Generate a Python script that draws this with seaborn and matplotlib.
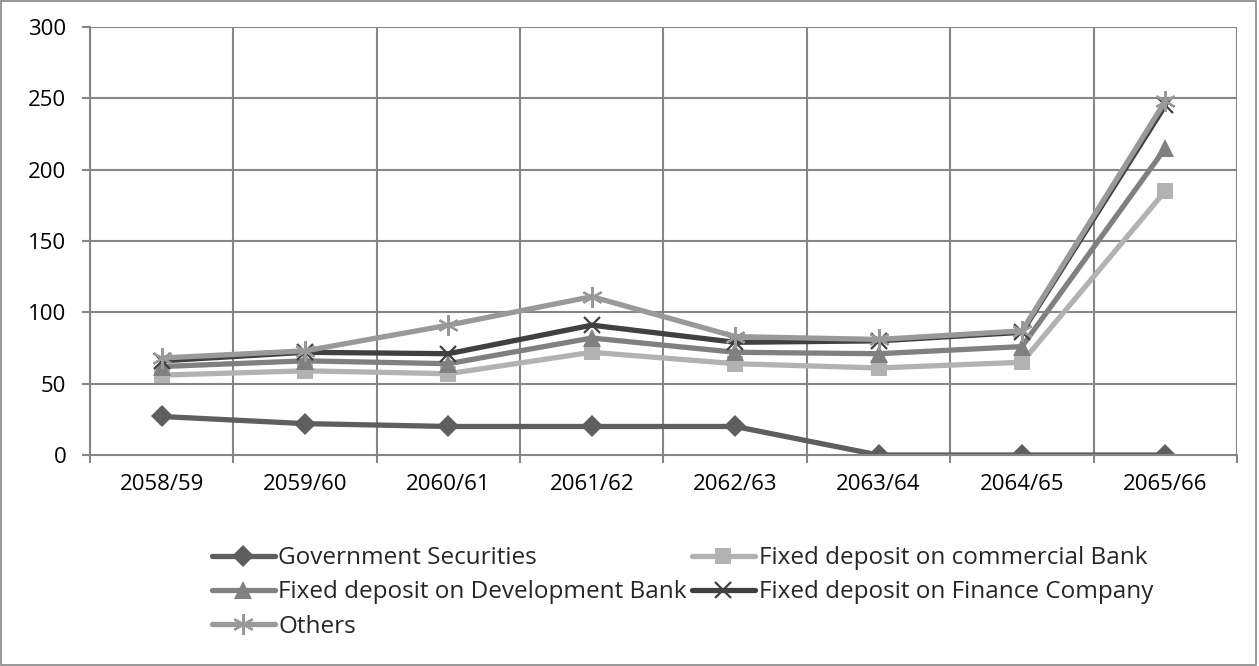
import matplotlib
matplotlib.use("Agg")
import matplotlib.pyplot as plt
import matplotlib.patches as mpatches
import seaborn as sns
import pandas as pd

years = ["2058/59", "2059/60", "2060/61", "2061/62", "2062/63", "2063/64", "2064/65", "2065/66"]

government_securities = [27, 22, 20, 20, 20, 0, 0, 0]
fd_commercial_bank = [56, 59, 57, 72, 64, 61, 65, 185]
fd_development_bank = [62, 66, 64, 82, 72, 71, 76, 215]
fd_finance_company = [66, 72, 71, 91, 79, 80, 86, 245]
others = [68, 73, 91, 111, 83, 81, 87, 248]

series_names = [
    "Government Securities",
    "Fixed deposit on commercial Bank",
    "Fixed deposit on Development Bank",
    "Fixed deposit on Finance Company",
    "Others",
]
series_values = [government_securities, fd_commercial_bank, fd_development_bank,
                 fd_finance_company, others]

colors = {
    "Government Securities": "#5e5e5e",
    "Fixed deposit on commercial Bank": "#b2b2b2",
    "Fixed deposit on Development Bank": "#808080",
    "Fixed deposit on Finance Company": "#404040",
    "Others": "#999999",
}
markers = {
    "Government Securities": "D",
    "Fixed deposit on commercial Bank": "s",
    "Fixed deposit on Development Bank": "^",
    "Fixed deposit on Finance Company": "x",
    "Others": (6, 2, 0),
}
marker_sizes = {
    "Government Securities": 11,
    "Fixed deposit on commercial Bank": 11,
    "Fixed deposit on Development Bank": 13,
    "Fixed deposit on Finance Company": 12,
    "Others": 15,
}

df = pd.DataFrame(
    [(name, yr, v) for name, vals in zip(series_names, series_values)
     for yr, v in zip(years, vals)],
    columns=["series", "year", "value"],
)

sns.set_theme(style="white")
plt.rcParams["font.family"] = ["Open Sans", "DejaVu Sans"]

fig = plt.figure(figsize=(12.59, 6.66), dpi=100)
ax = fig.add_axes([0.0715, 0.3168, 0.911, 0.6427])

grid_color = "#868686"

handles = {}
for name in series_names:
    sub = df[df["series"] == name]
    sns.lineplot(
        data=sub, x="year", y="value", ax=ax, sort=False,
        color=colors[name], linewidth=3.8,
        marker=markers[name], markersize=marker_sizes[name],
        markeredgecolor=colors[name],
        markeredgewidth=1.6 if name in ("Fixed deposit on Finance Company", "Others") else 0,
        label=name, legend=False,
    )
    handles[name] = ax.lines[-1]

ax.set_xlim(-0.5, len(years) - 0.5)
ax.set_ylim(0, 300)
ax.set_yticks(range(0, 301, 50))
ax.set_xlabel("")
ax.set_ylabel("")

# Gridlines: horizontal at major y ticks, vertical at category boundaries
ax.set_xticks([i - 0.5 for i in range(len(years) + 1)], minor=True)
ax.grid(False)
for y in range(50, 301, 50):
    ax.axhline(y, color=grid_color, linewidth=1.5, zorder=0)
for i in range(len(years) + 1):
    ax.axvline(i - 0.5, color=grid_color, linewidth=1.5, zorder=0)

for side in ["top", "right"]:
    ax.spines[side].set_visible(False)
for side in ["left", "bottom"]:
    ax.spines[side].set_color(grid_color)
    ax.spines[side].set_linewidth(1.5)

ax.tick_params(axis="x", which="major", length=0, labelsize=16, pad=14, colors="black")
ax.tick_params(axis="x", which="minor", length=6, width=1.5, color=grid_color, direction="out", bottom=True)
ax.tick_params(axis="y", which="major", length=6, width=1.5, color=grid_color, direction="out",
               labelsize=16, pad=11, left=True, labelcolor="black")

order = ["Government Securities", "Fixed deposit on Development Bank", "Others",
         "Fixed deposit on commercial Bank", "Fixed deposit on Finance Company"]
fig.legend(
    [handles[n] for n in order], order,
    loc="upper left", bbox_to_anchor=(0.168, 0.180), ncol=2,
    frameon=False, fontsize=17.5, handlelength=2.6, handletextpad=0.15,
    columnspacing=0.2, labelspacing=0.42, borderaxespad=0, borderpad=0,
)

fig.patches.append(mpatches.Rectangle((0.001, 0.001), 0.997, 0.997, transform=fig.transFigure,
                                      fill=False, edgecolor=grid_color, linewidth=1.2))

fig.savefig("out.png", dpi=100, facecolor="white")
